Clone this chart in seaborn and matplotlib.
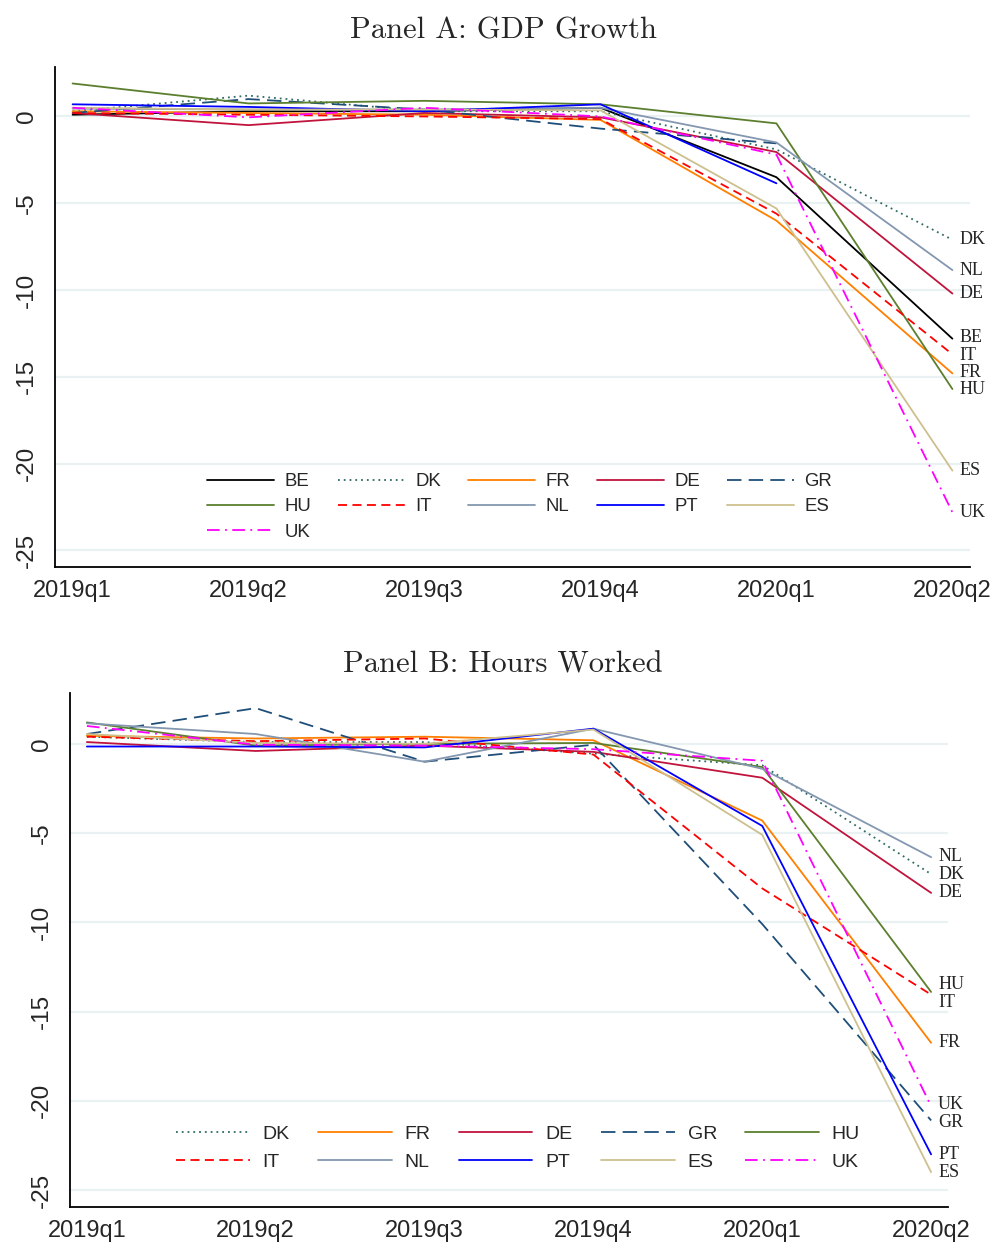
# ==========================================
# Output growth and hours worked, 2019q1 - 2020q2
# ==========================================

import numpy as np
import pandas as pd
import matplotlib
matplotlib.use("Agg")
import matplotlib.pyplot as plt
from matplotlib.lines import Line2D
import seaborn as sns

quarters = ["2019q1", "2019q2", "2019q3", "2019q4", "2020q1", "2020q2"]

# ------------------------------------------
# Panel A: GDP growth (%)
# ------------------------------------------
gdp_be = [0.1, 0.3, 0.3, 0.5, -3.5, -12.8]
gdp_dk = [0.3, 1.2, 0.3, 0.3, -1.9, -7.1]
gdp_fr = [0.3, 0.2, 0.1, -0.2, -6.0, -14.8]
gdp_de = [0.2, -0.5, 0.2, -0.05, -2.05, -10.2]
gdp_gr = [0.2, 1.0, 0.4, -0.7, -1.55, np.nan]
gdp_hu = [1.9, 0.75, 0.9, 0.7, -0.4, -15.7]
gdp_it = [0.2, 0.1, 0.0, -0.15, -5.6, -13.7]
gdp_nl = [0.45, 0.4, 0.4, 0.5, -1.5, -8.85]
gdp_pt = [0.7, 0.55, 0.3, 0.7, -3.85, np.nan]
gdp_es = [0.5, 0.4, 0.4, 0.35, -5.3, -20.4]
gdp_uk = [0.5, -0.05, 0.5, 0.0, -2.2, -22.8]

# ------------------------------------------
# Panel B: hours worked (%)
# ------------------------------------------
hrs_dk = [0.4, 0.1, 0.1, -0.55, -1.2, -7.3]
hrs_fr = [0.45, 0.3, 0.4, 0.2, -4.3, -16.75]
hrs_de = [0.1, -0.4, -0.1, -0.45, -1.9, -8.35]
hrs_gr = [0.55, 2.0, -1.0, -0.05, -10.1, -21.1]
hrs_hu = [1.2, -0.1, 0.0, 0.05, -1.3, -13.9]
hrs_it = [0.4, 0.15, 0.3, -0.6, -8.1, -14.05]
hrs_nl = [1.15, 0.55, -1.0, 0.85, -1.4, -6.35]
hrs_pt = [-0.15, -0.15, -0.2, 0.85, -4.6, -23.0]
hrs_es = [0.55, 0.05, 0.0, 0.8, -5.1, -24.0]
hrs_uk = [1.0, -0.05, -0.1, -0.3, -0.95, -20.3]

gdp = {"BE": gdp_be, "DK": gdp_dk, "FR": gdp_fr, "DE": gdp_de, "GR": gdp_gr,
       "HU": gdp_hu, "IT": gdp_it, "NL": gdp_nl, "PT": gdp_pt, "ES": gdp_es,
       "UK": gdp_uk}
hours = {"DK": hrs_dk, "FR": hrs_fr, "DE": hrs_de, "GR": hrs_gr, "HU": hrs_hu,
         "IT": hrs_it, "NL": hrs_nl, "PT": hrs_pt, "ES": hrs_es, "UK": hrs_uk}

colors = {"BE": "#000000", "DK": "#2F6B63", "FR": "#FF7F00", "DE": "#C0143C",
          "GR": "#1F4E79", "HU": "#5B7F2E", "IT": "#FF0000", "NL": "#8497B0",
          "PT": "#0000FF", "ES": "#CDC08E", "UK": "#FF00FF"}
dashes = {"BE": "", "DK": (1, 2.2), "FR": "", "DE": "", "GR": (8, 4),
          "HU": "", "IT": (5, 3), "NL": "", "PT": "", "ES": "",
          "UK": (7, 3, 1, 3)}

# ==========================================
# Style
# ==========================================
sns.set_style("white")
plt.rcParams["font.family"] = ["Liberation Sans", "DejaVu Sans"]
plt.rcParams["axes.unicode_minus"] = False

LW = 1.3
GRID = "#EAF1F2"


def spread_labels(vals, gap):
    # push overlapping end labels apart
    pos = np.array(vals, float)
    order = np.argsort(-pos)
    for _ in range(200):
        for a, b in zip(order[:-1], order[1:]):
            d = pos[a] - pos[b]
            if d < gap:
                shift = (gap - d) / 2
                pos[a] += shift
                pos[b] -= shift
    return pos


def draw_panel(ax, data, legend_order, leg_font, leg_kw, leg_anchor):
    names = list(data.keys())
    df = pd.DataFrame(data)
    df["t"] = np.arange(len(quarters))
    long = df.melt(id_vars="t", var_name="country", value_name="value")

    sns.lineplot(
        data=long, x="t", y="value",
        hue="country", style="country",
        hue_order=names, style_order=names,
        palette=colors, dashes={k: dashes[k] for k in names},
        estimator=None, linewidth=LW, legend=False, ax=ax
    )

    ax.set_xlim(-0.1, len(quarters) - 1 + 0.1)
    ax.set_ylim(-25.95, 2.85)
    ax.set_xticks(range(len(quarters)))
    ax.set_xticklabels(quarters, fontsize=17)
    ax.set_yticks([0, -5, -10, -15, -20, -25])
    ax.set_yticklabels(["0", "-5", "-10", "-15", "-20", "-25"],
                       fontsize=17.5, rotation=90, va="center")
    ax.set_xlabel("")
    ax.set_ylabel("")
    ax.tick_params(axis="both", direction="out", length=7, width=1.3,
                   color="black", pad=5)
    ax.tick_params(axis="x", pad=2.5)
    for y in [0, -5, -10, -15, -20, -25]:
        ax.axhline(y, color=GRID, lw=1.6, zorder=0)
    sns.despine(ax=ax)
    for s in ["left", "bottom"]:
        ax.spines[s].set_linewidth(1.3)
        ax.spines[s].set_color("black")

    # labels at the end of each line
    last = {k: v[-1] for k, v in data.items() if not np.isnan(v[-1])}
    keys = list(last.keys())
    ypos = spread_labels([last[k] for k in keys], 1.0)
    for k, yp in zip(keys, ypos):
        ax.annotate(k, xy=(len(quarters) - 1, yp), xytext=(5, 0),
                    textcoords="offset points", va="center", ha="left",
                    fontsize=13, family="Liberation Serif",
                    annotation_clip=False)

    handles = [Line2D([], [], color=colors[k], lw=LW,
                      dashes=dashes[k] if dashes[k] else (None, None))
               for k in legend_order]
    ax.legend(handles, legend_order, ncol=5, frameon=False, loc="center",
              bbox_to_anchor=leg_anchor, fontsize=leg_font, **leg_kw)


# ==========================================
# Figure
# ==========================================
fig = plt.figure(figsize=(10, 12.45), dpi=100)
ax_a = fig.add_axes([0.055, 0.5446, 0.915, 0.4016])
ax_b = fig.add_axes([0.070, 0.0305, 0.878, 0.4129])

# matplotlib fills legend columns first, so order for row-wise reading
draw_panel(ax_a, gdp,
           ["BE", "HU", "UK", "DK", "IT", "FR", "NL", "DE", "PT", "GR", "ES"],
           13.4, dict(handlelength=3.6, handletextpad=0.55, columnspacing=1.45,
                      labelspacing=0.45),
           (0.508, 0.12))
draw_panel(ax_b, hours,
           ["DK", "IT", "FR", "NL", "DE", "PT", "GR", "ES", "HU", "UK"],
           14, dict(handlelength=3.8, handletextpad=0.67, columnspacing=1.44,
                    labelspacing=0.54),
           (0.51, 0.114))

fig.text(0.503, 0.969, "Panel A: GDP Growth", ha="center", va="baseline",
         fontsize=22, family="cmr10")
fig.text(0.503, 0.460, "Panel B: Hours Worked", ha="center", va="baseline",
         fontsize=22, family="cmr10")

fig.savefig("out.png", dpi=100, facecolor="white")
